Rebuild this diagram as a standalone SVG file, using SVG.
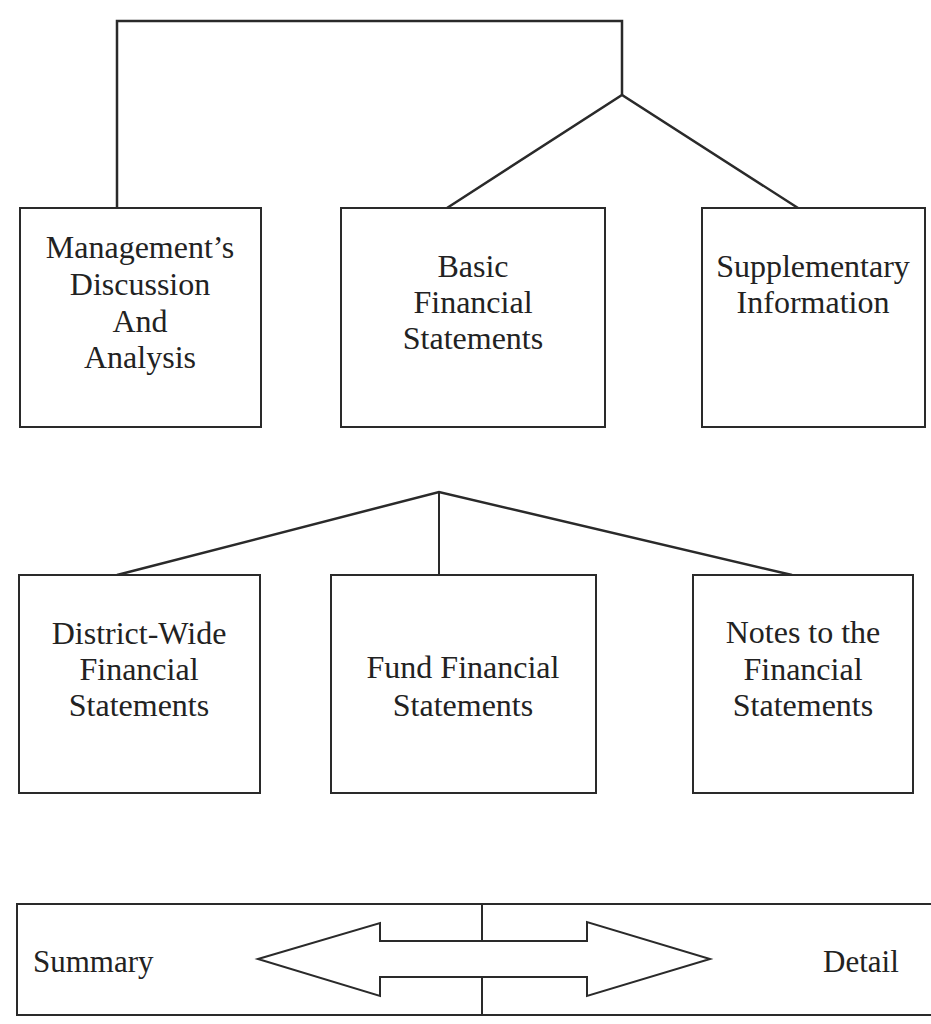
<svg xmlns="http://www.w3.org/2000/svg" width="931" height="1024" viewBox="0 0 931 1024">
<style>
.box{fill:#fff;stroke:#2a2a2a;stroke-width:2}
.ln{fill:none;stroke:#2a2a2a;stroke-width:2}
.t{font-family:"Liberation Serif","Times New Roman",serif;font-size:32px;fill:#222;text-anchor:middle}
.s{font-family:"Liberation Serif","Times New Roman",serif;font-size:31px;fill:#222}
</style>
<rect width="931" height="1024" fill="#fff"/>
<g id="connectors">
<polyline class="ln" points="117,208 117,21 622,21 622,95" style="stroke-width:2.5"/>
<polyline class="ln" points="447,208 622,95 798,208" style="stroke-width:2.5"/>
<polyline class="ln" points="117,575 439,492 792,575" style="stroke-width:2.5"/>
<line class="ln" x1="439" y1="492" x2="439" y2="575"/>
</g>
<g id="mda">
<rect class="box" x="20" y="208" width="241" height="219"/>
<text class="t" x="140" y="258">Management’s</text>
<text class="t" x="140" y="295">Discussion</text>
<text class="t" x="140" y="332">And</text>
<text class="t" x="140" y="368">Analysis</text>
</g>
<g id="basic">
<rect class="box" x="341" y="208" width="264" height="219"/>
<text class="t" x="473" y="277">Basic</text>
<text class="t" x="473" y="313">Financial</text>
<text class="t" x="473" y="349">Statements</text>
</g>
<g id="supp">
<rect class="box" x="702" y="208" width="223" height="219"/>
<text class="t" x="813" y="277">Supplementary</text>
<text class="t" x="813" y="313">Information</text>
</g>
<g id="district">
<rect class="box" x="19" y="575" width="241" height="218"/>
<text class="t" x="139" y="644">District-Wide</text>
<text class="t" x="139" y="680">Financial</text>
<text class="t" x="139" y="716">Statements</text>
</g>
<g id="fund">
<rect class="box" x="331" y="575" width="265" height="218"/>
<text class="t" x="463" y="678">Fund Financial</text>
<text class="t" x="463" y="716">Statements</text>
</g>
<g id="notes">
<rect class="box" x="693" y="575" width="220" height="218"/>
<text class="t" x="803" y="643">Notes to the</text>
<text class="t" x="803" y="680">Financial</text>
<text class="t" x="803" y="716">Statements</text>
</g>
<g id="scale">
<rect class="box" x="17" y="904" width="930" height="111"/>
<line class="ln" x1="482" y1="904" x2="482" y2="941"/>
<line class="ln" x1="482" y1="977" x2="482" y2="1015"/>
<polygon class="box" points="258,959 380,923 380,941 587,941 587,922 710,959 587,996 587,977 380,977 380,996"/>
<text class="s" x="33" y="972">Summary</text>
<text class="s" x="823" y="972">Detail</text>
</g>
</svg>
